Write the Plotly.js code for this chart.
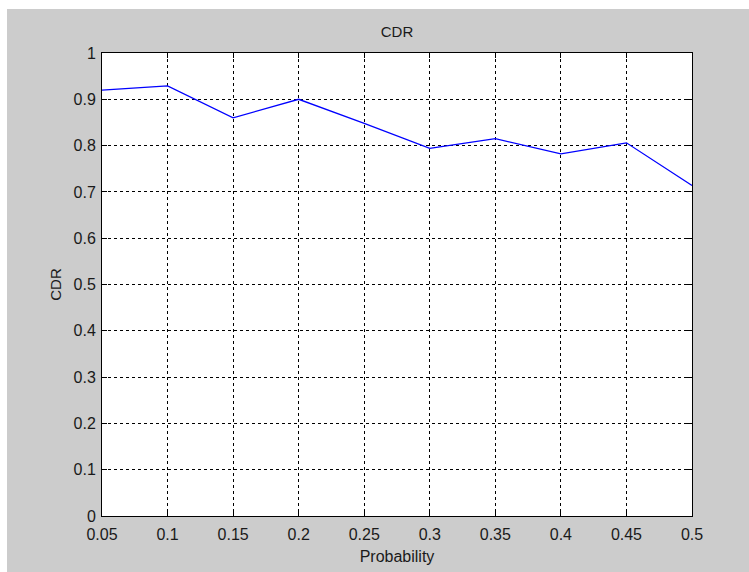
<!DOCTYPE html>
<html>
<head>
<meta charset="utf-8">
<script src="https://cdn.plot.ly/plotly-3.0.1.min.js"></script>
<style>html,body{margin:0;padding:0;background:#fff;}#chart{width:749px;height:572px;}</style>
</head>
<body>
<div id="chart"></div>
<script>
const probability = [0.05, 0.1, 0.15, 0.2, 0.25, 0.3, 0.35, 0.4, 0.45, 0.5];
const cdr = [0.920, 0.929, 0.860, 0.900, 0.848, 0.794, 0.815, 0.782, 0.806, 0.714];
const xTickVals = [0.05, 0.1, 0.15, 0.2, 0.25, 0.3, 0.35, 0.4, 0.45, 0.5];
const xTickText = ["0.05", "0.1", "0.15", "0.2", "0.25", "0.3", "0.35", "0.4", "0.45", "0.5"];
const yTickVals = [0, 0.1, 0.2, 0.3, 0.4, 0.5, 0.6, 0.7, 0.8, 0.9, 1];
const yTickText = ["0", "0.1", "0.2", "0.3", "0.4", "0.5", "0.6", "0.7", "0.8", "0.9", "1"];

const font = {family: "Liberation Sans, Arial, sans-serif", size: 16, color: "#1a1a1a"};

const trace = {
  x: probability, y: cdr, type: "scatter", mode: "lines",
  line: {color: "#0000ff", width: 1.3},
  hoverinfo: "skip"
};

const axisCommon = {
  showline: true, linecolor: "#000", linewidth: 1, mirror: "ticks",
  ticks: "inside", ticklen: 5, tickcolor: "#000", tickwidth: 1,
  showgrid: true, gridcolor: "#000", gridwidth: 1, griddash: "3px,3px",
  zeroline: false, tickfont: font, tickmode: "array"
};

const layout = {
  width: 749, height: 572,
  margin: {l: 102, r: 57, t: 53, b: 56, pad: 0},
  paper_bgcolor: "#cccccc",
  plot_bgcolor: "#ffffff",
  font: font,
  showlegend: false,
  title: {text: "CDR", font: {family: font.family, size: 15, color: "#1a1a1a"}, x: 0.5, xref: "paper", y: 1 - 32/572, yanchor: "middle"},
  xaxis: Object.assign({}, axisCommon, {
    range: [0.05, 0.5], tickvals: xTickVals, ticktext: xTickText,
    ticklabelstandoff: 4,
    title: {text: "Probability", font: font, standoff: 8}
  }),
  yaxis: Object.assign({}, axisCommon, {
    range: [0, 1], tickvals: yTickVals, ticktext: yTickText,
    ticklabelstandoff: 2,
    title: {text: "CDR", font: {family: font.family, size: 15, color: "#1a1a1a"}, standoff: 8}
  }),
  shapes: [
    {type: "rect", xref: "paper", yref: "paper", x0: -0.2, x1: 1.2, y0: (516-9)/463, y1: 1.3, fillcolor: "#ffffff", line: {width: 0}, layer: "below"},
    {type: "rect", xref: "paper", yref: "paper", x0: -0.3, x1: (7-102)/590, y0: -0.3, y1: 1.3, fillcolor: "#ffffff", line: {width: 0}, layer: "below"}
  ]
};

Plotly.newPlot("chart", [trace], layout, {displayModeBar: false, staticPlot: true});
</script>
</body>
</html>
